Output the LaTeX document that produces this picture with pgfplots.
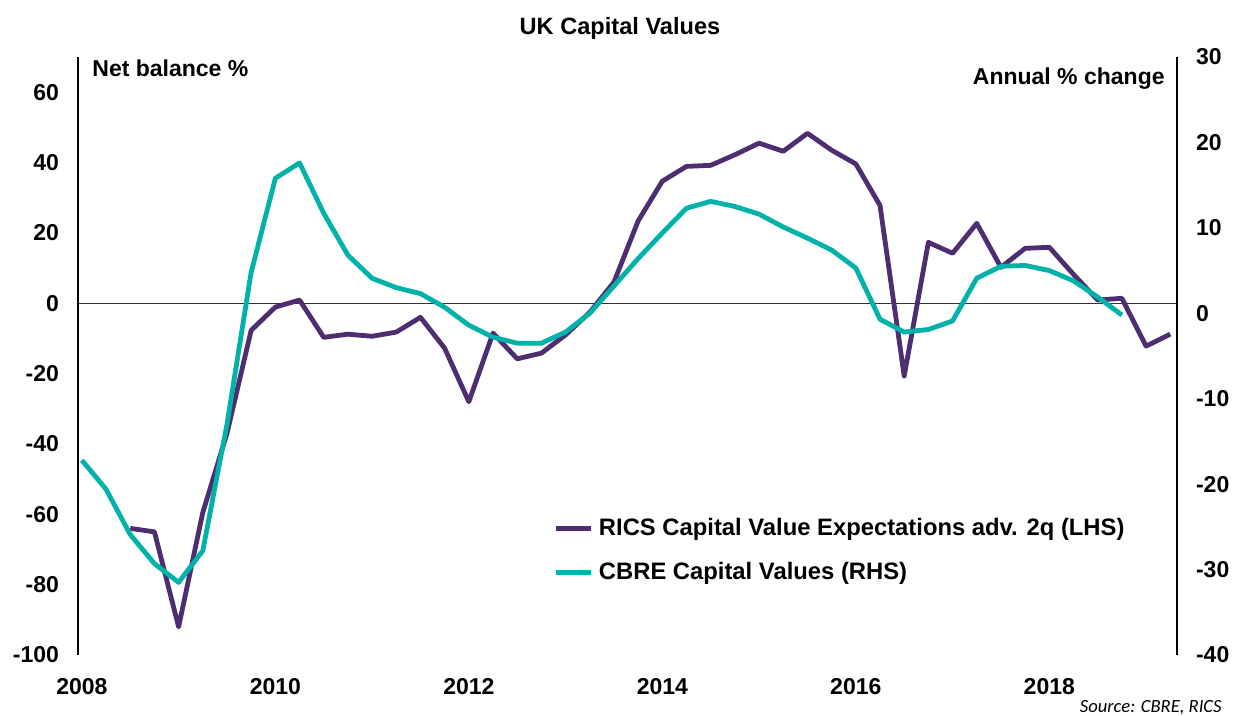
\documentclass[border=0pt]{standalone}
\usepackage{pgfplots}
\pgfplotsset{compat=1.18}
\usepackage{fontspec}
\setmainfont{Liberation Sans}
\newfontfamily\carlito{Carlito}

\definecolor{ricspurple}{RGB}{78,45,112}
\definecolor{cbreteal}{RGB}{0,178,169}

\newcommand{\chartfont}{\fontsize{11.5}{13}\selectfont\bfseries}
\newcommand{\legfont}{\fontsize{11.9}{13}\selectfont\bfseries}

\begin{document}
\begin{tikzpicture}
% page = 1236 x 716 px at 0.5pt per px, axis box lower-left at (78,655) px
\path[use as bounding box] (-39pt,-30.5pt) rectangle (579pt,327.5pt);

\pgfplotsset{
  common/.style={
    scale only axis,
    width=549.5pt, height=299pt,
    xmin=2007.96, xmax=2019.32,
    major tick length=0pt,
    tick label style={font=\chartfont},
    /pgf/number format/assume math mode=true,
    /pgf/number format/1000 sep={},
    clip=false,
  },
}

\begin{axis}[
  common,
  ymin=-100, ymax=70,
  ytick={-100,-80,...,60},
  axis y line*=left,
  axis x line*=bottom,
  x axis line style={draw=none},
  y axis line style={black, line width=0.6pt},
  xtick={2008,2010,...,2018},
  xticklabel style={yshift=-8pt},
  yticklabel style={xshift=-6pt},
  extra y ticks={0},
  extra y tick labels={},
  extra y tick style={grid=major, major grid style={black!80, line width=0.6pt}},
  legend style={
    at={(rel axis cs:0.432,0.236)}, anchor=north west,
    draw=none, fill=none, font=\legfont,
    row sep=8pt, inner xsep=0pt, inner ysep=0pt,
    nodes={inner xsep=3pt},
  },
  legend cell align=left,
  legend image code/.code={\draw[#1] (0pt,0pt) -- (17.5pt,0pt);},
]
\addplot[ricspurple, line width=2.4pt, line join=round] coordinates {
  (2008.5,-64) (2008.75,-65) (2009.0,-92) (2009.25,-59.5) (2009.5,-37)
  (2009.75,-7.7) (2010.0,-1.1) (2010.25,0.9) (2010.5,-9.7) (2010.75,-8.8)
  (2011.0,-9.4) (2011.25,-8.2) (2011.5,-4) (2011.75,-12.8) (2012.0,-28)
  (2012.25,-8.5) (2012.5,-15.8) (2012.75,-14.2) (2013.0,-9) (2013.25,-2.6)
  (2013.5,6) (2013.75,23.4) (2014.0,34.7) (2014.25,38.9) (2014.5,39.2)
  (2014.75,42.2) (2015.0,45.5) (2015.25,43.2) (2015.5,48.3) (2015.75,43.5)
  (2016.0,39.6) (2016.25,27.8) (2016.5,-20.7) (2016.75,17.3) (2017.0,14.2)
  (2017.25,22.7) (2017.5,10.2) (2017.75,15.6) (2018.0,15.9) (2018.25,8.2)
  (2018.5,0.9) (2018.75,1.4) (2019.0,-12.2) (2019.25,-8.8)
};
\addlegendentry{RICS Capital Value Expectations adv. 2q (LHS)}
\addlegendimage{cbreteal, line width=2.4pt}
\addlegendentry{CBRE Capital Values (RHS)}
\end{axis}

\begin{axis}[
  common,
  ymin=-40, ymax=30,
  ytick={-40,-30,...,30},
  axis y line*=right,
  axis x line=none,
  y axis line style={black, line width=0.6pt},
  yticklabel style={xshift=6pt},
]
\addplot[cbreteal, line width=2.4pt, line join=round] coordinates {
  (2008.0,-17.2) (2008.25,-20.6) (2008.5,-25.9) (2008.75,-29.3) (2009.0,-31.5)
  (2009.25,-27.8) (2009.5,-13) (2009.75,4.8) (2010.0,15.8) (2010.25,17.6)
  (2010.5,11.7) (2010.75,6.8) (2011.0,4.1) (2011.25,3.0) (2011.5,2.3)
  (2011.75,0.7) (2012.0,-1.4) (2012.25,-2.8) (2012.5,-3.5) (2012.75,-3.5)
  (2013.0,-2.2) (2013.25,0.0) (2013.5,3.2) (2013.75,6.4) (2014.0,9.4)
  (2014.25,12.3) (2014.5,13.1) (2014.75,12.5) (2015.0,11.6) (2015.25,10.1)
  (2015.5,8.8) (2015.75,7.4) (2016.0,5.3) (2016.25,-0.7) (2016.5,-2.2)
  (2016.75,-1.9) (2017.0,-0.9) (2017.25,4.1) (2017.5,5.5) (2017.75,5.6)
  (2018.0,5.0) (2018.25,3.8) (2018.5,1.9) (2018.75,-0.2)
};
\end{axis}

\node[font=\fontsize{11.8}{13}\selectfont\bfseries] at (271pt,313.5pt) {UK Capital Values};
\node[font=\chartfont, anchor=west, inner sep=0pt] at (7pt,293.5pt) {Net balance \%};
\node[font=\chartfont, anchor=east, inner sep=0pt] at (543.5pt,288pt) {Annual \% change};
\node[font=\carlito\itshape\fontsize{9.3}{11}\selectfont, anchor=east, inner sep=0pt] at (572pt,-26.5pt) {Source: CBRE, RICS};
\end{tikzpicture}
\end{document}
